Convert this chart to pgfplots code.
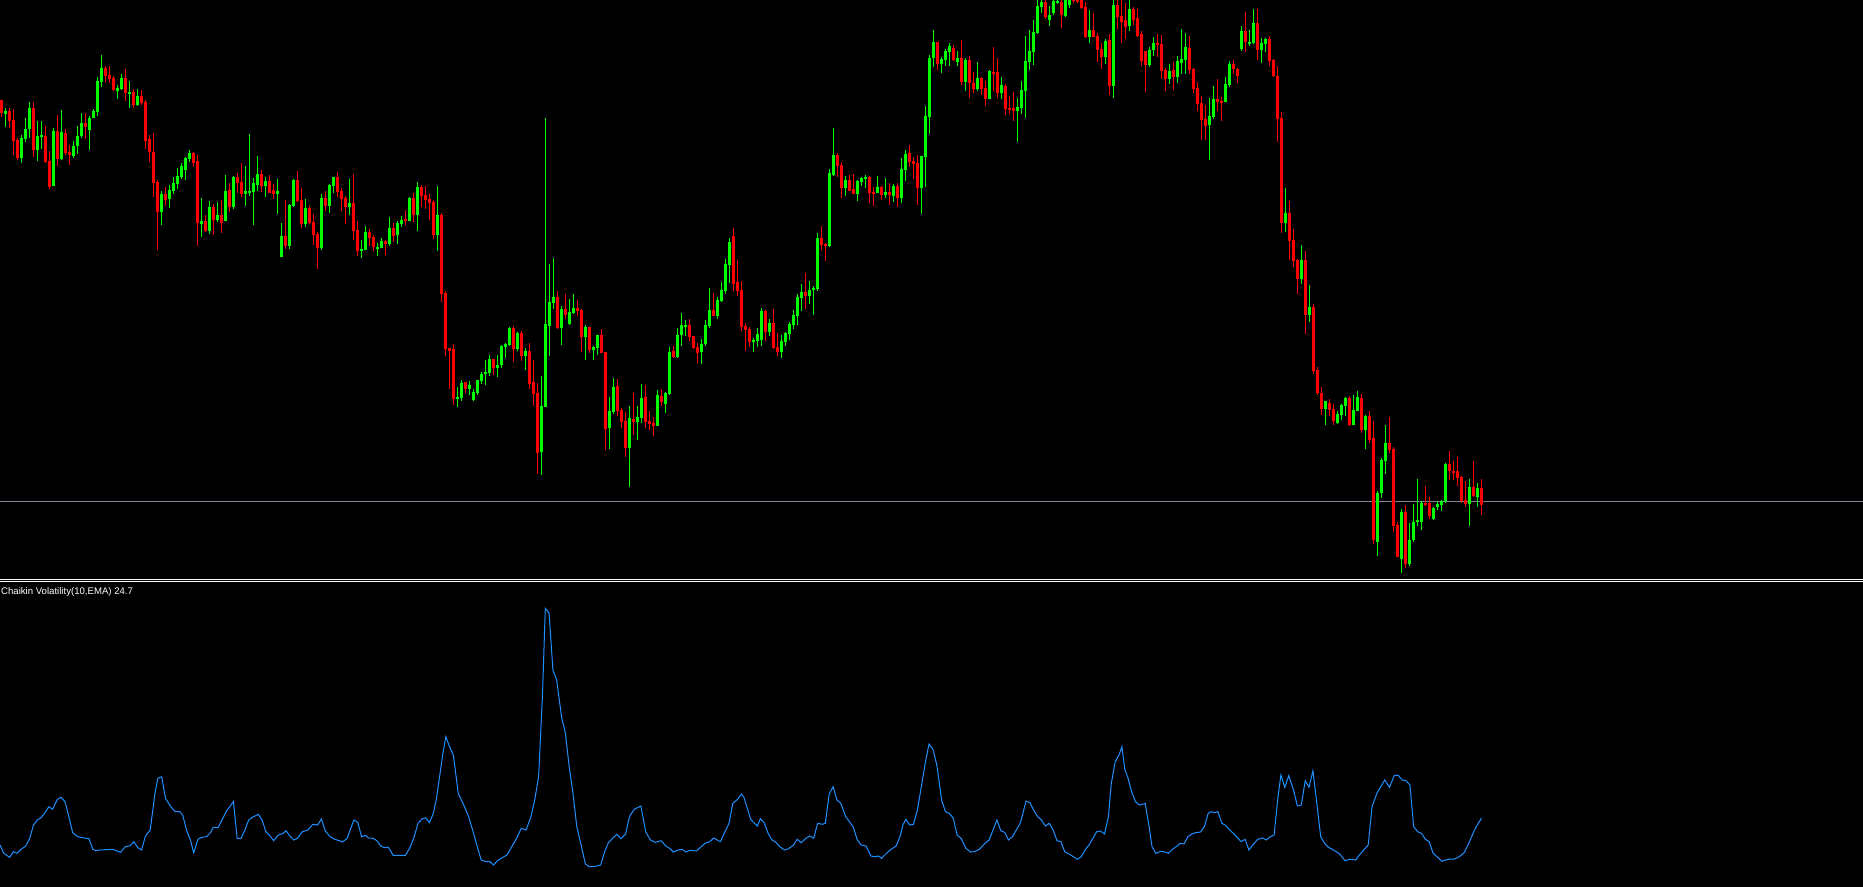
\documentclass[border=0pt]{standalone}
\usepackage{pgfplots}
\pgfplotsset{compat=1.18}
\usepackage{pgfplotstable}
\usepackage{fontspec}
\setmainfont{Liberation Sans}
\definecolor{upcol}{RGB}{0,255,0}
\definecolor{downcol}{RGB}{255,0,0}
\definecolor{cvblue}{RGB}{30,144,255}
\definecolor{levelcol}{RGB}{128,134,150}

% candles: bar index i, open o, high h, low l, close c (screen rows, larger = lower price)
\pgfplotstableread{
i o h l c
0 100 100 117 113
1 114 108 127 111
2 111 108 128 121
3 120 109 155 141
4 140 138 160 158
5 158 135 163 138
6 139 118 142 129
7 129 102 138 108
8 108 102 157 150
9 150 121 161 136
10 137 121 149 135
11 136 126 163 162
12 161 151 189 187
13 186 128 186 131
14 131 115 166 159
15 159 110 160 132
16 133 129 155 153
17 152 145 165 155
18 156 141 158 146
19 146 126 154 136
20 136 113 138 123
21 123 113 139 127
22 130 116 150 118
23 118 109 118 111
24 112 77 116 81
25 82 55 87 68
26 68 66 82 76
27 75 66 83 79
28 78 76 91 90
29 91 85 99 88
30 89 74 90 78
31 78 69 101 93
32 93 81 108 92
33 92 89 108 105
34 105 89 106 96
35 96 90 105 103
36 102 100 149 141
37 139 135 162 152
38 152 133 197 183
39 182 180 250 212
40 212 191 225 194
41 194 187 206 200
42 199 185 208 190
43 191 177 194 183
44 184 168 189 176
45 177 163 179 166
46 170 157 180 158
47 159 150 162 153
48 153 152 167 163
49 161 155 246 223
50 224 198 237 221
51 221 215 232 231
52 231 201 234 207
53 207 204 235 220
54 220 202 222 215
55 215 200 233 223
56 221 175 221 191
57 190 183 212 207
58 207 176 209 177
59 177 173 193 183
60 182 163 197 194
61 194 166 206 191
62 192 134 196 191
63 192 178 225 183
64 185 156 191 174
65 174 170 192 186
66 186 177 197 181
67 181 175 193 193
68 190 184 199 194
69 194 179 214 191
70 257 223 257 236
71 236 200 249 246
72 246 204 249 205
73 206 179 207 180
74 180 171 202 201
75 200 188 228 224
76 224 199 227 208
77 208 206 224 223
78 222 214 245 235
79 234 232 269 248
80 248 194 250 198
81 198 191 211 206
82 206 184 213 185
83 186 177 193 177
84 177 172 197 192
85 191 188 211 199
86 198 196 224 207
87 207 179 215 203
88 203 174 240 231
89 230 221 256 251
90 251 240 258 249
91 250 226 250 232
92 232 229 246 238
93 237 235 251 247
94 249 243 256 247
95 248 238 248 241
96 241 240 255 244
97 244 217 246 228
98 228 223 242 236
99 235 221 244 223
100 224 216 227 220
101 219 210 225 221
102 221 197 221 198
103 198 193 222 215
104 215 182 231 187
105 187 185 207 196
106 195 186 209 200
107 199 194 220 203
108 202 200 239 235
109 235 186 251 215
110 215 213 302 294
111 293 291 356 349
112 348 348 389 351
113 349 344 405 399
114 399 387 407 397
115 398 380 401 383
116 382 382 393 389
117 389 381 395 385
118 400 389 401 392
119 393 380 395 380
120 381 372 384 374
121 374 360 385 372
122 373 355 376 359
123 359 359 375 368
124 368 355 377 365
125 365 345 368 346
126 347 343 358 344
127 345 327 346 328
128 328 326 362 349
129 349 332 351 333
130 333 331 361 356
131 356 348 370 351
132 351 343 389 384
133 382 360 406 394
134 393 383 474 453
135 452 376 475 406
136 407 118 407 324
137 326 264 356 302
138 303 258 309 297
139 297 291 329 328
140 328 306 345 309
141 309 294 319 315
142 324 299 325 312
143 313 294 314 308
144 308 300 316 311
145 310 309 352 337
146 337 325 360 327
147 327 327 353 350
148 350 346 360 347
149 348 335 355 335
150 335 329 353 353
151 352 352 450 429
152 428 397 449 411
153 412 378 414 387
154 386 379 416 411
155 410 408 428 422
156 421 412 457 448
157 448 406 487 418
158 419 393 435 422
159 422 406 440 417
160 418 384 423 398
161 397 385 428 422
162 421 411 430 424
163 423 417 436 426
164 426 390 426 395
165 396 389 406 402
166 404 392 413 393
167 394 347 395 352
168 351 346 358 357
169 357 328 358 335
170 335 313 346 325
171 326 320 336 325
172 325 319 341 337
173 336 336 349 348
174 347 343 363 353
175 352 339 364 344
176 344 320 346 325
177 326 288 328 310
178 310 293 316 316
179 316 297 319 300
180 301 282 302 290
181 291 259 294 264
182 265 238 283 242
183 236 228 291 284
184 282 260 296 291
185 290 281 331 327
186 326 323 351 330
187 329 327 347 342
188 342 338 352 340
189 341 328 347 334
190 340 308 346 311
191 311 310 341 332
192 332 319 336 323
193 323 309 349 348
194 347 333 356 352
195 352 335 358 341
196 342 332 346 333
197 334 322 340 324
198 325 310 329 315
199 316 294 325 297
200 298 284 311 292
201 292 273 309 296
202 296 281 304 290
203 290 286 315 288
204 289 233 291 238
205 238 226 250 245
206 244 243 261 246
207 246 169 247 173
208 175 128 176 155
209 155 153 177 166
210 165 162 198 188
211 188 176 196 180
212 180 175 191 191
213 189 174 194 194
214 194 180 201 181
215 182 177 186 178
216 179 175 188 177
217 177 176 203 193
218 192 187 206 193
219 193 176 193 187
220 187 186 200 195
221 195 178 198 192
222 192 183 205 195
223 196 184 202 186
224 186 183 207 198
225 198 158 203 169
226 170 150 181 154
227 153 145 167 162
228 161 157 179 164
229 163 155 205 188
230 188 156 214 156
231 157 106 187 116
232 117 55 134 58
233 58 30 67 42
234 42 42 70 64
235 64 57 73 59
236 60 49 66 51
237 52 43 66 46
238 48 45 61 60
239 62 51 66 58
240 58 40 85 82
241 82 58 91 60
242 60 56 98 83
243 83 72 93 89
244 89 62 91 78
245 78 77 95 89
246 88 81 106 99
247 99 70 99 71
248 72 47 91 73
249 72 58 98 93
250 93 77 99 85
251 86 84 115 109
252 108 96 114 109
253 108 92 121 111
254 111 98 142 107
255 108 81 114 90
256 91 36 118 61
257 62 30 70 51
258 52 20 65 32
259 33 0 34 6
260 7 0 13 2
261 2 0 19 17
262 20 6 26 15
263 13 0 15 1
264 3 0 4 1
265 2 0 28 15
266 16 -10 17 -5
267 5 -8 8 -3
268 -2 -6 3 1
269 -3 -5 3 2
270 0 -3 9 8
271 7 2 38 37
272 37 10 43 30
273 30 13 37 37
274 36 33 62 50
275 49 43 69 57
276 57 39 64 41
277 40 34 95 86
278 86 -5 98 5
279 5 -3 29 17
280 16 -3 43 22
281 20 3 39 27
282 26 -2 31 9
283 9 7 25 20
284 18 9 37 36
285 34 31 66 61
286 51 51 92 65
287 65 47 67 50
288 50 37 56 43
289 43 34 57 45
290 44 35 79 71
291 70 68 91 79
292 79 64 84 71
293 70 62 90 77
294 77 56 83 61
295 63 29 74 59
296 60 33 74 47
297 48 36 74 70
298 69 68 93 89
299 88 82 111 104
300 103 96 140 120
301 119 105 140 126
302 125 98 160 116
303 117 86 119 99
304 99 79 111 102
305 101 97 121 102
306 102 77 102 84
307 85 61 87 64
308 64 60 74 69
309 69 68 83 76
310 49 26 51 31
311 31 12 52 42
312 43 30 46 42
313 43 9 44 23
314 23 9 60 50
315 50 38 63 43
316 44 38 52 39
317 39 36 66 61
318 60 59 77 76
319 76 66 142 119
320 118 112 233 223
321 223 188 232 213
322 213 201 260 241
323 240 229 267 261
324 260 259 294 279
325 279 245 284 260
326 260 251 334 315
327 315 285 322 307
328 307 304 374 371
329 370 367 395 393
330 393 387 415 409
331 409 401 425 401
332 403 399 416 410
333 409 404 425 421
334 423 411 424 414
335 415 404 420 405
336 406 397 416 398
337 398 396 426 425
338 425 395 425 410
339 411 391 411 397
340 398 394 433 430
341 430 415 449 416
342 416 411 443 440
343 438 421 544 540
344 542 491 556 493
345 493 458 498 460
346 461 425 474 443
347 443 417 453 450
348 449 447 532 526
349 525 522 557 557
350 559 509 573 512
351 512 505 568 564
352 564 523 566 540
353 540 504 542 522
354 521 479 526 520
355 522 501 530 503
356 503 486 506 505
357 503 497 519 516
358 519 507 520 508
359 507 501 510 504
360 505 500 511 501
361 501 463 503 464
362 464 451 480 471
363 471 461 480 473
364 471 457 486 478
365 477 476 503 501
366 500 481 507 504
367 504 479 526 487
368 487 461 497 496
369 497 483 507 488
370 488 479 515 505
}\candles

% Chaikin volatility line: x position, v = rows below the indicator window's top
\pgfplotstableread{
x v
0 255
3.8 263.3
9.6 267.3
13.4 261.7
17.2 263.3
21.0 259.3
25.8 256
29.7 248.3
33.5 235
37.3 230
41.1 227.7
45.0 222.7
48.8 216.7
52.6 219.3
57.4 209.3
61.2 207.3
65.0 211.7
68.9 226.7
72.7 242.7
76.5 246
80.4 247.3
89.0 248.7
92.8 259.3
95.7 260.7
99.5 260
112.9 259.3
120.5 262.3
125.3 256.7
130.1 255.7
133.9 251.7
137.8 257.7
141.6 260
145.4 246
150.2 240
155.0 203.3
157.8 188.3
161.7 186.7
165.5 208.3
170.3 216
175.1 221.7
179.8 221.7
182.7 225
186.5 240
190.4 250
193.7 262.7
198.0 249.3
201.8 247.3
206.6 246.7
210.5 242.7
213.3 237.3
218.1 237.7
221.9 230
226.7 220.7
233.4 211.7
237.2 248.3
241.1 248.3
244.9 240
248.7 230
253.5 226.7
258.3 224.3
262.1 230
265.9 241.7
270.7 246.7
273.6 250.7
278.4 245
283.2 243.3
286.0 240.7
289.9 246
293.7 250
297.5 248.3
302.3 241.7
308.0 240
312.8 234.3
317.6 235
321.4 229
325.2 240.7
330.0 246.7
334.8 249.3
339.6 250.7
342.5 252
347.2 248.3
350.1 240
353.9 230
357.8 232.3
361.6 246.7
365.4 245.3
368.3 248
373.1 248.3
376.9 250.7
380.7 256
384.5 257.7
388.4 257.3
393.2 265.3
405.6 265.3
410.4 256.7
414.2 246.7
418.0 233.3
421.9 229
425.7 227.7
429.5 232.7
433.3 223.3
436.2 210
439.1 190
442.9 163.3
445.8 146.7
449.6 156.7
453.4 165
458.2 203.3
463.0 213.3
468.7 226.7
472.6 240
477.3 256.7
481.2 270
486.0 271.7
489.8 271.7
493.6 275
497.4 270.7
502.2 267.7
507.0 265
511.8 256.7
516.6 248.3
521.3 238.3
526.1 240
530.9 226.7
534.7 210
538.6 186.7
542.4 106.7
545.3 18.3
549.1 23.3
552.9 80
556.7 90
561.5 126.7
565.4 143.3
569.2 176.7
573.0 203.3
576.8 236.7
580.7 253.3
585.4 274
589.3 276.7
594.0 276.7
600.7 275
604.6 261.7
608.4 252.7
613.2 247.7
617.0 244.3
620.8 248.7
625.6 244
629.4 226.7
634.2 219.3
640.9 216
645.7 242
650.5 250
655.3 252.3
661.0 250.7
665.8 256
669.6 258.3
673.4 262
678.2 260
682.1 259.3
685.9 262
689.7 260.3
696.4 261
701.2 256.7
705.0 253.3
709.8 251.7
713.6 248
720.3 251.7
724.2 243.3
729.0 233.3
732.8 213.3
737.6 209.3
741.4 204
743.9 207.3
746.8 216.7
750.7 229.3
754.5 233.3
757.4 236
760.4 228.7
764.2 232.7
768.1 243.3
772.0 250
775.9 252.3
779.7 256.7
784.6 260
788.5 258.7
793.3 255.3
797.2 249.3
801.1 252.7
805.9 248.3
809.8 246
813.7 248.3
817.6 233.3
822.4 234.3
825.3 233.3
829.2 204
833.1 196.7
836.9 210
840.8 213.3
845.7 226.7
849.5 231.7
853.4 237.3
857.3 250
861.2 255
866.0 256
870.9 266
874.7 266.7
878.6 266
881.5 268.3
886.4 263.3
891.2 259.3
896.1 256
900.0 246.7
902.9 235
905.8 229.3
909.6 235
913.5 234.3
917.4 220
921.3 196.7
925.2 173.3
929.0 154
932.9 159.3
936.8 175
941.6 210
945.5 221.7
949.4 223.3
953.3 228.3
957.1 245
961.0 248.3
965.9 258.3
970.7 262
974.6 261.7
979.4 259.3
984.3 254
989.1 250
993.0 240
996.9 230
1000.8 240.7
1004.6 242.3
1008.5 250
1012.4 246.7
1016.3 240
1020.2 233.3
1023.1 222.7
1026.0 211
1029.9 212.7
1033.7 220
1037.6 226.7
1041.5 230
1045.4 236
1049.2 233.3
1053.1 240
1057.0 250.7
1060.9 251.7
1064.7 261.7
1069.6 264.3
1073.5 266.7
1077.4 269.3
1081.2 266.7
1085.1 260
1089.0 255
1092.9 248.3
1096.7 241.7
1100.6 241
1104.5 244
1108.4 226.7
1111.3 193.3
1115.2 171.7
1119.0 165
1121.9 156.7
1124.9 180
1127.8 187.3
1131.6 201.7
1135.5 211.7
1139.4 215
1143.3 214
1145.2 213.3
1149.1 236.7
1152.0 256.7
1155.9 263.3
1159.8 261.7
1163.6 261.7
1168.5 263.3
1172.4 259.3
1176.2 256.7
1180.1 253.3
1184.0 254
1187.9 246.7
1191.7 244
1195.6 242.7
1200.5 242
1204.3 236.7
1208.2 223.3
1211.1 221.7
1215.0 222.7
1217.9 221.7
1221.8 233.3
1225.7 235.3
1229.5 240
1233.4 243.3
1237.3 247.7
1241.2 251.7
1245.1 249.3
1248.9 260
1252.8 255
1257.7 249.3
1262.5 248
1266.4 250
1270.3 246.7
1274.1 245
1278.0 206.7
1280.9 185
1284.8 197.3
1288.7 185.7
1293.5 200
1297.4 216
1301.3 215
1305.2 190.7
1309.0 197.3
1312.9 180.7
1316.8 213.3
1320.7 246.7
1324.5 253.3
1328.4 257.3
1332.3 259.3
1336.2 261.7
1340.0 264.3
1344.9 270.7
1349.8 269.3
1355.6 270
1359.4 265
1364.3 259.3
1368.2 255
1372.0 216.7
1376.9 203.3
1380.8 196.7
1384.7 190
1389.5 197.3
1394.3 185.3
1398.2 185.3
1402.1 190
1406.0 190.7
1409.9 195
1413.7 236.7
1417.6 241.7
1421.5 243.3
1425.4 249.3
1429.2 251.7
1433.1 263.3
1437.0 266.7
1441.8 271.3
1445.7 270
1449.6 269
1454.4 269
1459.3 266.7
1464.1 262.7
1468.0 255
1471.9 246
1475.8 237.3
1481.6 228
}\chaikin

\pgfplotsset{
  candle/.style n args={3}{% #1 filter expression, #2 line width, #3 colour
    draw=none, mark=none, forget plot,
    restrict expr to domain={#1}{0.5:100000},
    error bars/.cd, y dir=both, y explicit, error mark=none,
    error bar style={line width=#2, draw=#3, solid}},
}

\begin{document}
\begin{tikzpicture}
\useasboundingbox (0,0) rectangle (931.5bp,-443.5bp);
\fill[black] (0,0) rectangle (931.5bp,-443.5bp);

% ---------- price window ----------
\begin{axis}[
  at={(0,0)}, anchor=north west,
  scale only axis, width=931.5bp, height=289.5bp,
  xmin=0, xmax=1863, ymin=-579, ymax=0,
  hide axis, clip=true,
]
% price level line
\addplot[levelcol, line width=0.5bp, forget plot] coordinates {(0,-501) (1863,-501)};
% wicks
\addplot[candle={\thisrow{o}-\thisrow{c}}{0.5bp}{upcol}]
  table[x expr=1.5+4*\thisrow{i}, y expr=-(\thisrow{h}+\thisrow{l})/2,
        y error expr=(\thisrow{l}-\thisrow{h})/2] {\candles};
\addplot[candle={\thisrow{c}-\thisrow{o}}{0.5bp}{downcol}]
  table[x expr=1.5+4*\thisrow{i}, y expr=-(\thisrow{h}+\thisrow{l})/2,
        y error expr=(\thisrow{l}-\thisrow{h})/2] {\candles};
% bodies
\addplot[candle={\thisrow{o}-\thisrow{c}}{1.5bp}{upcol}]
  table[x expr=1.5+4*\thisrow{i}, y expr=-(\thisrow{o}+\thisrow{c})/2,
        y error expr={abs(\thisrow{o}-\thisrow{c})/2}] {\candles};
\addplot[candle={\thisrow{c}-\thisrow{o}}{1.5bp}{downcol}]
  table[x expr=1.5+4*\thisrow{i}, y expr=-(\thisrow{o}+\thisrow{c})/2,
        y error expr={abs(\thisrow{o}-\thisrow{c})/2}] {\candles};
\end{axis}

% window separators
\draw[white, line width=0.5bp] (0,-289.75bp) -- (931.5bp,-289.75bp);
\draw[white, line width=0.5bp] (0,-290.75bp) -- (931.5bp,-290.75bp);

% ---------- indicator window ----------
\begin{axis}[
  at={(0,-291bp)}, anchor=north west,
  scale only axis, width=931.5bp, height=152.5bp,
  xmin=0, xmax=1863, ymin=-297, ymax=8,
  hide axis, clip=true,
]
\addplot[cvblue, line width=0.5bp, mark=none] table[x=x, y expr=-\thisrow{v}] {\chaikin};
\end{axis}

\node[anchor=base west, inner sep=0pt, text=white, font=\fontsize{4.8bp}{5.8bp}\selectfont]
  at (0.4bp,-297bp) {Chaikin Volatility(10,EMA) 24.7};
\end{tikzpicture}
\end{document}
